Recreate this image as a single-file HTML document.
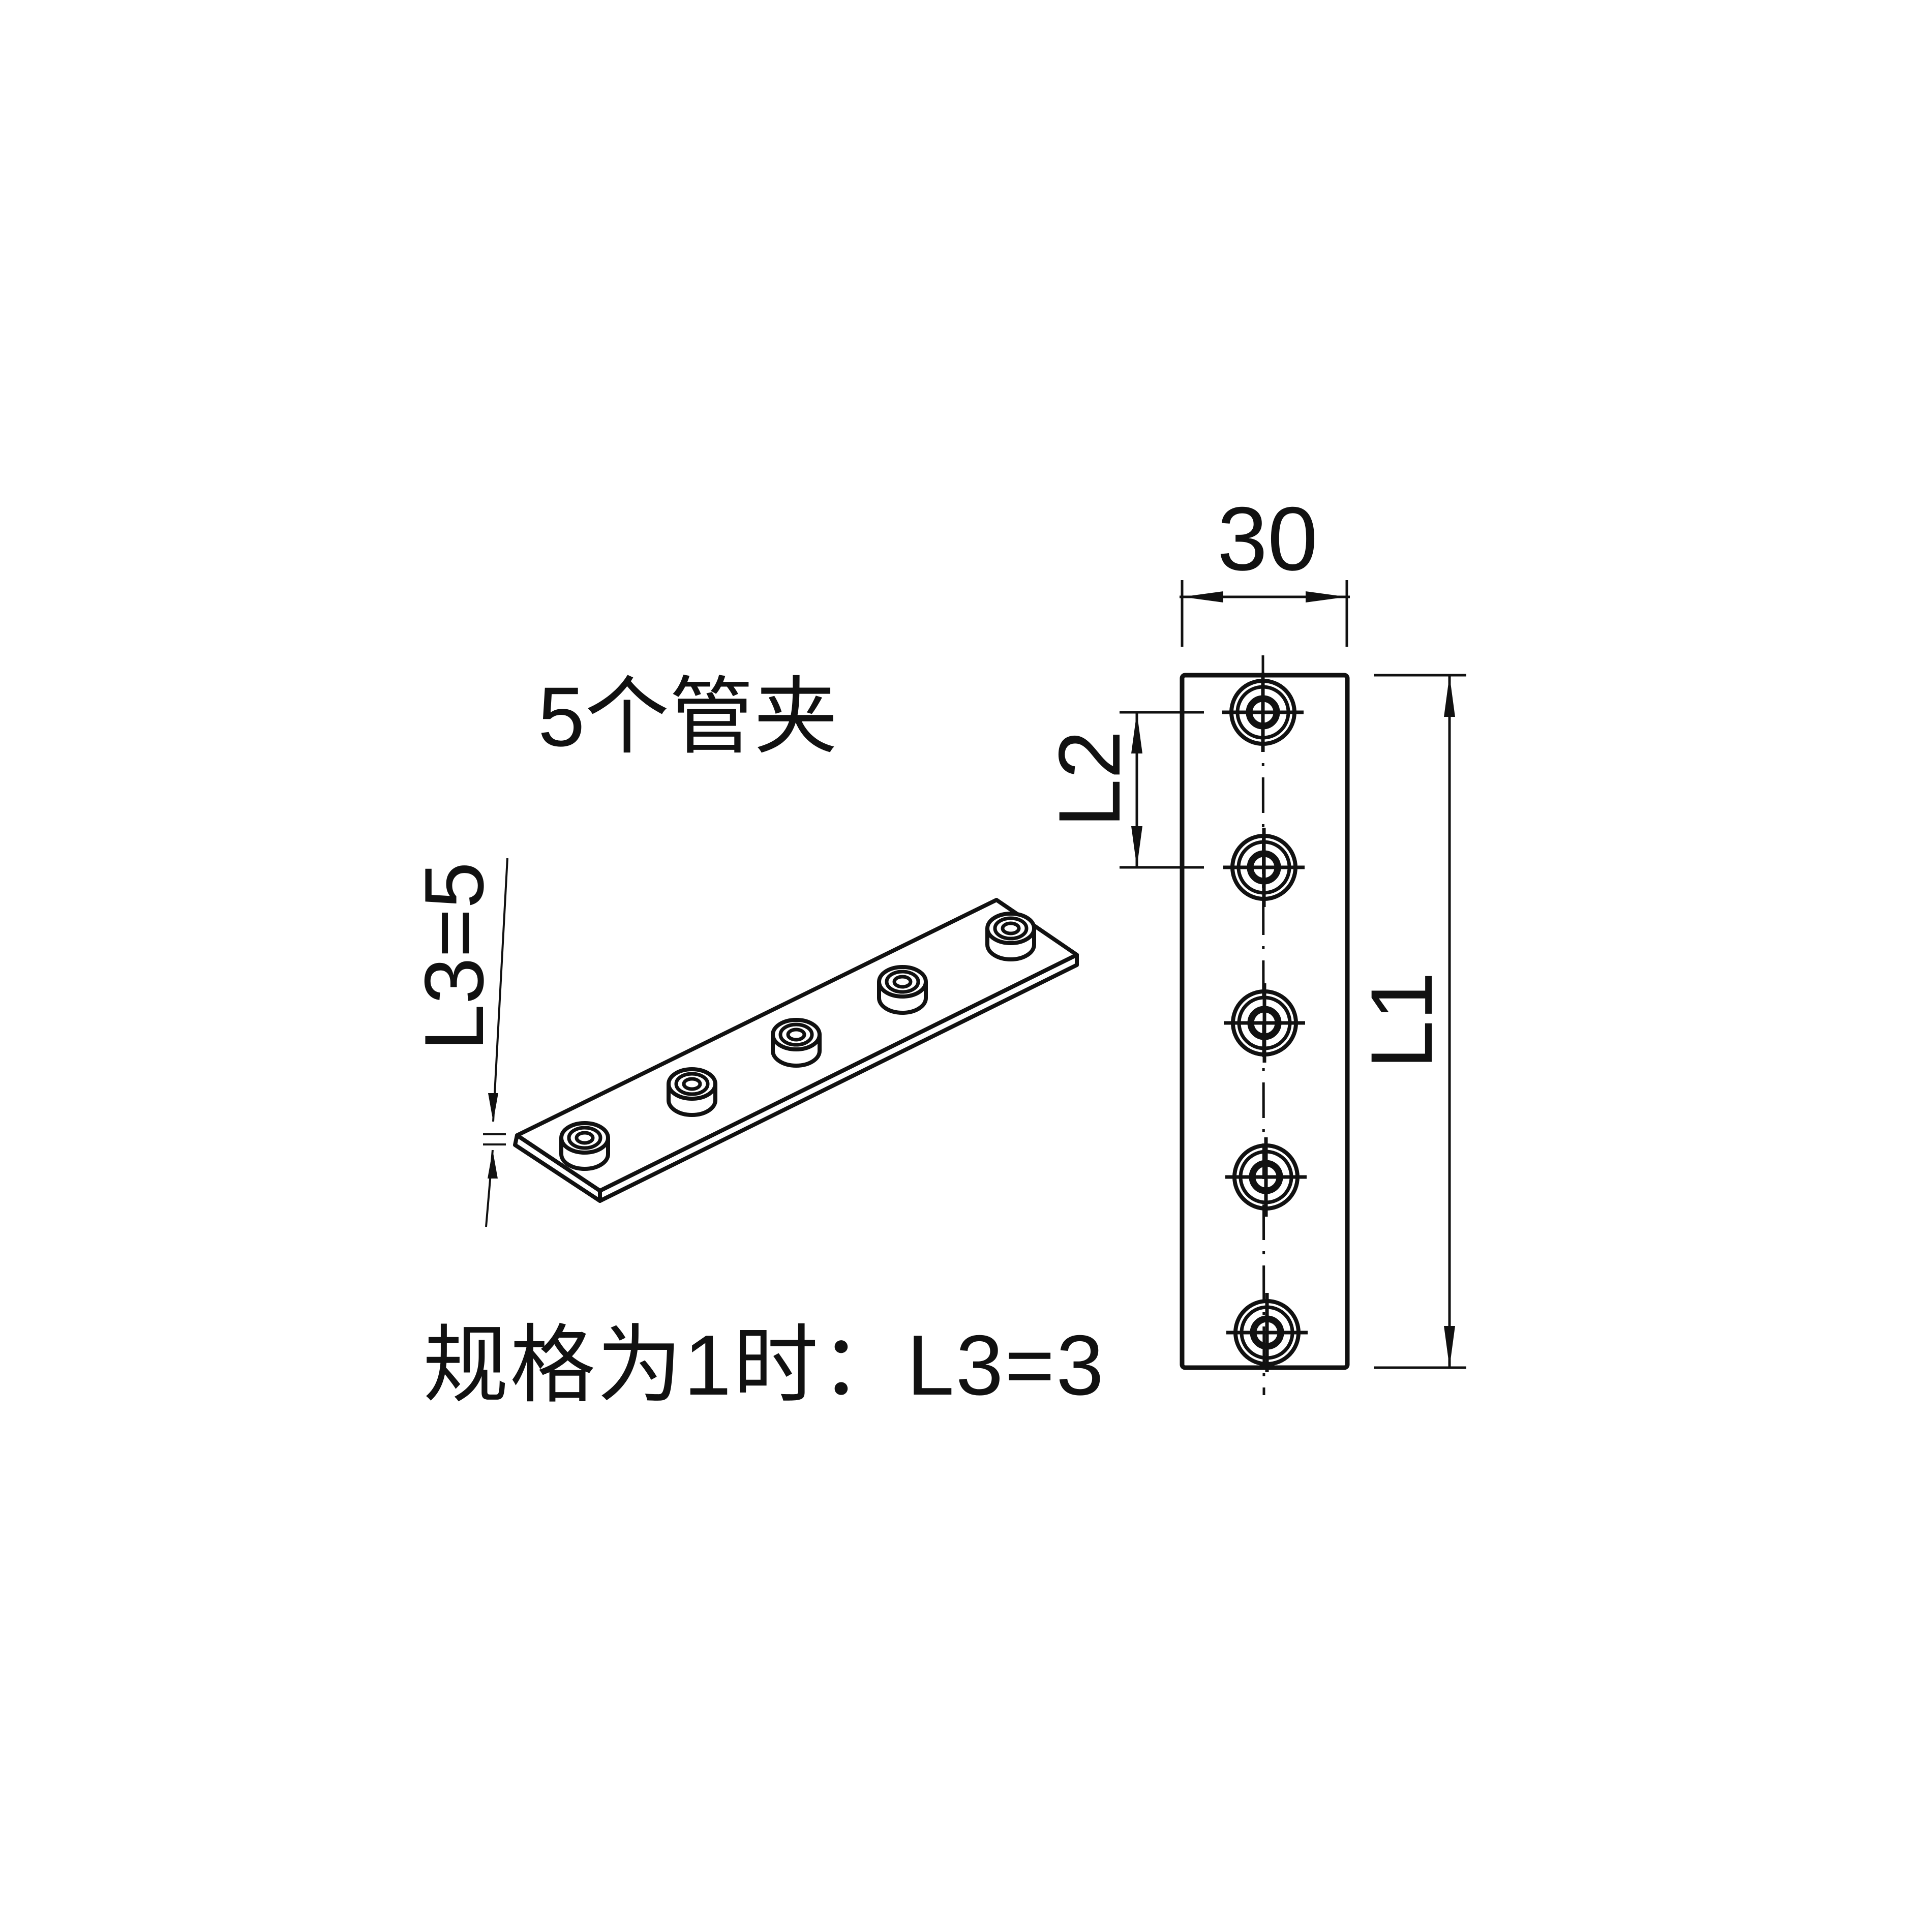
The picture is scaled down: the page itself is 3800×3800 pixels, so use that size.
<!DOCTYPE html>
<html><head><meta charset="utf-8"><style>
html,body{margin:0;padding:0;background:#fff;}
svg{display:block;}
text{font-family:"Liberation Sans","Noto Sans CJK SC",sans-serif;fill:#111;}
</style></head><body>
<svg width="3800" height="3800" viewBox="0 0 3800 3800" xmlns="http://www.w3.org/2000/svg">
<defs>
<g id="hole">
  <circle r="62" fill="none" stroke="#111" stroke-width="8"/>
  <circle r="50" fill="none" stroke="#111" stroke-width="7"/>
  <circle r="27" fill="none" stroke="#111" stroke-width="13"/>
  <line x1="-80" y1="0" x2="80" y2="0" stroke="#111" stroke-width="7"/>
  <line x1="0" y1="-78" x2="0" y2="78" stroke="#111" stroke-width="7"/>
</g>
<g id="boss">
  <path d="M-46,0 L-46,32 A46,29 0 0 0 46,32 L46,0" fill="#fff" stroke="#111" stroke-width="8"/>
  <ellipse rx="46" ry="29" fill="#fff" stroke="#111" stroke-width="8"/>
  <ellipse rx="31" ry="20" fill="none" stroke="#111" stroke-width="7"/>
  <ellipse rx="16" ry="10" fill="none" stroke="#111" stroke-width="7"/>
</g>
</defs>

<text x="1058" y="1467" font-size="166">5个管夹</text>
<text x="832" y="2743" font-size="168" letter-spacing="3">规格为1时：L3=3</text>

<g stroke="#111" stroke-width="8" stroke-linejoin="round" fill="#fff">
  <polygon points="1013,2252 1180,2362 1180,2342 1017,2233"/>
  <polygon points="1180,2342 2118,1878 2118,1898 1180,2362"/>
  <polygon points="1017,2233 1960,1770 2118,1878 1180,2342"/>
</g>
<use href="#boss" x="1150" y="2238"/>
<use href="#boss" x="1361" y="2132"/>
<use href="#boss" x="1566" y="2035"/>
<use href="#boss" x="1775" y="1931"/>
<use href="#boss" x="1988" y="1826"/>

<g stroke="#111" stroke-width="4">
  <line x1="998" y1="1688" x2="970" y2="2206"/>
  <line x1="969" y1="2262" x2="956" y2="2413"/>
  <line x1="950" y1="2231" x2="995" y2="2231"/>
  <line x1="950" y1="2251" x2="995" y2="2251"/>
</g>
<polygon points="970,2206 960,2150 980,2150" fill="#111"/>
<polygon points="969,2262 959,2318 979,2318" fill="#111"/>
<text transform="translate(950,1881) rotate(-90)" text-anchor="middle" font-size="165">L3=5</text>

<rect x="2325" y="1328" width="325" height="1362" rx="6" fill="none" stroke="#111" stroke-width="9"/>
<line x1="2484" y1="1289" x2="2486" y2="2744" stroke="#111" stroke-width="5" stroke-dasharray="70,22,6,22"/>
<use href="#hole" x="2484" y="1401"/>
<use href="#hole" x="2486" y="1706"/>
<use href="#hole" x="2487" y="2012"/>
<use href="#hole" x="2490" y="2315"/>
<use href="#hole" x="2492" y="2621"/>

<g stroke="#111" stroke-width="5">
  <line x1="2325" y1="1141" x2="2325" y2="1272"/>
  <line x1="2649" y1="1141" x2="2649" y2="1272"/>
  <line x1="2320" y1="1174" x2="2655" y2="1174"/>
</g>
<polygon points="2325,1174 2406,1163 2406,1185" fill="#111"/>
<polygon points="2649,1174 2568,1163 2568,1185" fill="#111"/>
<text x="2493" y="1121" text-anchor="middle" font-size="178">30</text>

<g stroke="#111" stroke-width="5">
  <line x1="2202" y1="1401" x2="2368" y2="1401"/>
  <line x1="2202" y1="1706" x2="2368" y2="1706"/>
  <line x1="2236" y1="1401" x2="2236" y2="1706"/>
</g>
<polygon points="2236,1401 2225,1482 2247,1482" fill="#111"/>
<polygon points="2236,1706 2225,1625 2247,1625" fill="#111"/>
<text transform="translate(2202,1532) rotate(-90)" text-anchor="middle" font-size="172">L2</text>

<g stroke="#111" stroke-width="5">
  <line x1="2702" y1="1328" x2="2884" y2="1328"/>
  <line x1="2702" y1="2690" x2="2884" y2="2690"/>
  <line x1="2851" y1="1328" x2="2851" y2="2690"/>
</g>
<polygon points="2851,1328 2840,1410 2862,1410" fill="#111"/>
<polygon points="2851,2690 2840,2608 2862,2608" fill="#111"/>
<text transform="translate(2816,2007) rotate(-90)" text-anchor="middle" font-size="172">L1</text>
</svg>
</body></html>
